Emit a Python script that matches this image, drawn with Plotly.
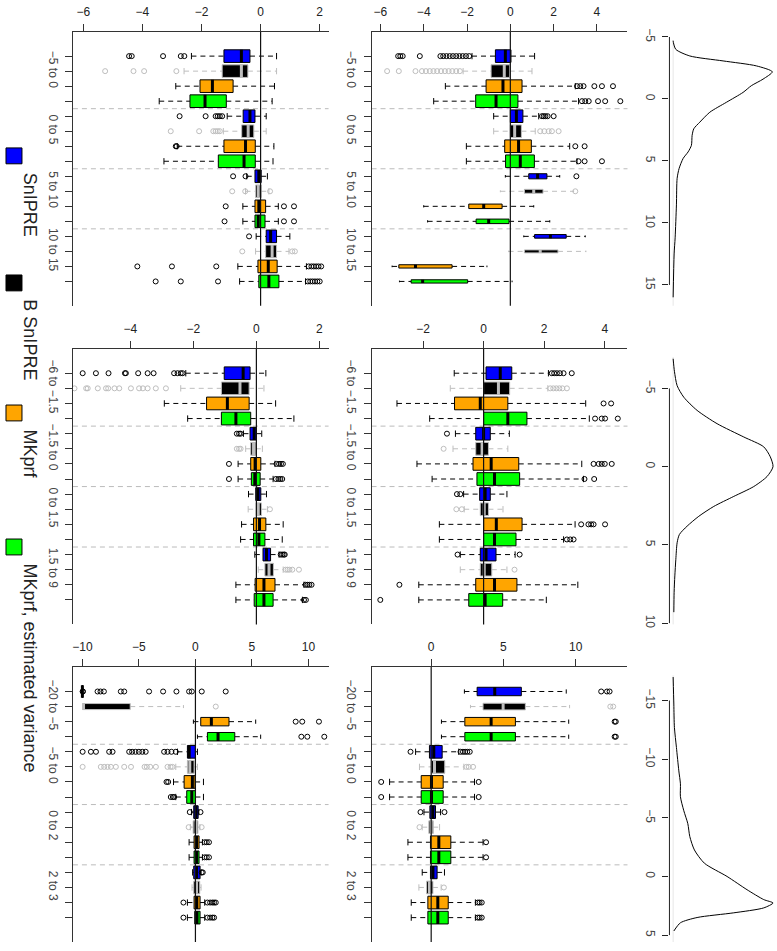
import plotly.graph_objects as go

W, H = 777, 951

# ---------------- data ----------------
methods = ["SnIPRE", "B SnIPRE", "MKprf", "MKprf, estimated variance"]

row_labels = [
    ["−5 to 0", "0 to 5", "5 to 10", "10 to 15"],
    ["−6 to −1.5", "−1.5 to 0", "0 to 1.5", "1.5 to 9"],
    ["−20 to −5", "−5 to 0", "0 to 2", "2 to 3"],
]

# row 1, left panel
p11_q1 = [-1.24, -1.30, -2.05, -2.39, -0.59, -0.64, -1.24, -1.43, -0.19, -0.17, -0.19, -0.19, 0.19, 0.17, -0.09, -0.06]
p11_med = [-0.65, -0.65, -1.63, -1.88, -0.36, -0.42, -0.51, -0.56, -0.06, -0.08, -0.06, -0.08, 0.34, 0.39, 0.26, 0.28]
p11_q3 = [-0.36, -0.43, -0.93, -1.16, -0.19, -0.23, -0.18, -0.18, 0.02, 0.02, 0.17, 0.15, 0.54, 0.54, 0.56, 0.62]
p11_lo = [-2.34, -2.59, -2.87, -3.43, -1.13, -1.26, -2.82, -3.27, -0.47, -0.51, -0.60, -0.60, -0.15, -0.17, -0.77, -0.71]
p11_hi = [0.54, 0.54, 0.47, 0.39, 0.19, 0.19, 0.45, 0.42, 0.23, 0.28, 0.60, 0.60, 0.99, 0.96, 1.55, 1.52]
p11_out = [[-4.45, -4.36, -3.3, -2.7, -2.58], [-5.26, -4.3, -3.94, -2.85], [], [],
           [-2.74, -1.86, -1.52, -1.45, -1.38, -1.3], [-3.04, -2.08, -1.6, -1.52, -1.45, -1.38], [-2.87, -2.84], [],
           [-0.93, -0.51], [-0.96, -0.52, 0.32], [-1.18, 0.79, 1.13], [-1.22, 0.79, 1.13],
           [-0.39], [-0.62, 1.07, 1.16], [-4.17, -3.0, -1.5, 1.63, 1.72, 1.8, 1.88, 1.96, 2.05],
           [-3.55, -2.7, -1.44, 1.6, 1.68, 1.76, 1.84, 1.92, 2.0]]

# row 1, middle panel
p12_q1 = [-0.69, -0.89, -1.12, -1.60, 0.0, 0.0, -0.26, -0.22, 0.85, 0.65, -1.92, -1.58, 1.12, 0.65, -5.15, -4.58]
p12_med = [-0.23, -0.28, -0.34, -0.66, 0.28, 0.20, 0.38, 0.46, 1.26, 1.08, -1.23, -1.0, 1.85, 1.38, -4.38, -4.05]
p12_q3 = [0.03, -0.03, 0.54, 0.35, 0.58, 0.51, 0.97, 1.11, 1.69, 1.51, -0.38, -0.06, 2.58, 2.2, -2.69, -1.97]
p12_lo = [-1.77, -2.18, -3.0, -3.54, -0.77, -0.77, -2.03, -2.03, -0.23, -0.46, -4.0, -3.82, 0.62, -0.08, -5.46, -5.12]
p12_hi = [1.12, 1.0, 3.0, 3.15, 1.31, 1.15, 2.74, 3.08, 2.28, 2.92, 1.08, 1.82, 3.46, 3.49, -1.08, 0.08]
p12_out = [[-5.18, -5.08, -4.97, -4.18, -3.23, -3.1, -2.95, -2.8, -2.65, -2.5, -2.35, -2.2, -2.05, -1.9],
           [-5.69, -5.15, -4.38, -4.08, -3.9, -3.72, -3.55, -3.38, -3.2, -3.02, -2.85, -2.68, -2.5, -2.33],
           [3.08, 3.23, 3.38, 3.88, 4.23, 4.74], [3.31, 3.46, 3.62, 4.05, 4.38, 5.08],
           [1.46, 1.54, 1.62, 1.72, 2.0], [1.38, 1.57, 1.77, 1.92, 2.23], [3.0, 3.43], [3.15, 3.43, 4.23],
           [3.05], [3.0], [], [], [], [], [], []]

# row 2, left panel
p21_q1 = [-1.02, -1.11, -1.58, -1.11, -0.20, -0.18, -0.18, -0.16, -0.02, -0.01, -0.09, -0.09, 0.21, 0.27, -0.04, -0.07]
p21_med = [-0.42, -0.52, -0.92, -0.65, -0.07, -0.09, -0.04, -0.05, 0.05, 0.06, 0.10, 0.08, 0.32, 0.40, 0.24, 0.24]
p21_q3 = [-0.20, -0.23, -0.23, -0.18, 0.0, -0.02, 0.14, 0.12, 0.14, 0.16, 0.30, 0.27, 0.45, 0.54, 0.59, 0.53]
p21_lo = [-2.24, -2.40, -2.92, -2.18, -0.41, -0.34, -0.58, -0.58, -0.25, -0.26, -0.47, -0.50, -0.05, 0.06, -0.65, -0.65]
p21_hi = [0.30, 0.24, 0.61, 1.19, 0.17, 0.19, 0.59, 0.53, 0.32, 0.35, 0.85, 0.82, 0.72, 0.85, 1.51, 1.46]
p21_out = [[-5.51, -5.09, -4.69, -4.17, -4.14, -3.75, -3.45, -3.26, -2.61, -2.5, -2.4, -2.34],
           [-5.77, -5.4, -5.35, -5.03, -4.77, -4.7, -4.5, -4.35, -3.98, -3.72, -3.6, -3.45, -3.19, -2.87],
           [], [], [-0.62, -0.55, -0.5], [-0.62, -0.55, -0.5], [-0.87, 0.64, 0.72, 0.78, 0.84],
           [-0.87, 0.62, 0.7, 0.76, 0.82], [], [0.43], [], [],
           [0.77, 0.82, 0.87, 0.9], [0.93, 0.99, 1.05, 1.14, 1.35], [1.56, 1.62, 1.68, 1.75], [1.51, 1.57]]

# row 2, middle panel
p22_q1 = [0.08, 0.0, -0.96, 0.0, -0.26, -0.26, -0.35, -0.22, -0.13, -0.11, 0.0, 0.0, -0.11, -0.11, -0.26, -0.49]
p22_med = [0.55, 0.49, -0.11, 0.80, 0.0, -0.05, 0.25, 0.36, 0.05, 0.02, 0.42, 0.36, 0.08, 0.02, 0.36, 0.05]
p22_q3 = [0.93, 0.86, 0.80, 1.43, 0.22, 0.16, 1.16, 1.19, 0.22, 0.16, 1.27, 1.07, 0.41, 0.27, 1.10, 0.63]
p22_lo = [-0.97, -1.10, -2.86, -1.78, -0.93, -1.01, -2.20, -1.70, -0.66, -0.64, -1.46, -1.46, -0.77, -0.77, -2.14, -2.14]
p22_hi = [2.14, 2.12, 3.37, 3.49, 0.85, 0.80, 3.24, 3.30, 0.77, 0.64, 3.02, 2.64, 1.04, 0.77, 3.11, 2.07]
p22_out = [[2.25, 2.33, 2.42, 2.52, 2.64, 2.91], [2.2, 2.3, 2.4, 2.5, 2.6, 2.75], [3.96, 4.21],
           [3.68, 3.9, 4.01, 4.43], [-1.21], [-1.32], [3.63, 3.8, 3.9, 4.0, 4.23], [3.33, 3.65],
           [-0.88, -0.77], [-0.9, -0.72], [3.22, 3.46, 3.55, 3.63, 4.01], [2.75, 2.86, 2.97],
           [-0.86, 1.19], [1.02], [-2.78], [-3.41]]

# row 3, left panel
p31_q1 = [-10.0, -9.98, 0.47, 1.06, -0.71, -0.71, -1.00, -0.77, -0.15, -0.20, -0.12, -0.12, -0.15, -0.15, -0.12, -0.06]
p31_med = [-10.0, -9.9, 1.41, 2.0, -0.55, -0.50, -0.27, -0.32, 0.05, 0.05, 0.10, 0.10, 0.10, 0.10, 0.12, 0.14]
p31_q3 = [-10.0, -5.77, 2.97, 3.48, 0.0, -0.12, -0.03, 0.0, 0.24, 0.22, 0.32, 0.32, 0.41, 0.38, 0.41, 0.41]
p31_lo = [-10.0, -9.98, -0.18, 0.18, -1.59, -1.74, -1.94, -1.74, -0.35, -0.45, -0.56, -0.56, -0.25, -0.3, -0.71, -0.71]
p31_hi = [-10.0, -1.06, 5.33, 5.77, 0.18, 0.18, 0.71, 0.71, 0.30, 0.40, 0.62, 0.62, 0.50, 0.50, 0.82, 0.82]
p31_out = [[-9.98, -9.95, -8.66, -8.4, -8.1, -6.6, -6.3, -4.1, -2.86, -1.68, -0.56, -0.32, 0.56, 2.68],
           [1.8], [8.87, 9.45, 10.93], [9.37, 9.9, 11.4],
           [-9.98, -9.25, -8.8, -7.63, -7.33, -5.86, -5.6, -5.3, -5.0, -4.7, -4.4, -2.77, -2.47, -2.12, -1.74],
           [-9.98, -8.37, -8.07, -7.78, -7.48, -7.04, -6.3, -5.7, -4.5, -4.3, -4.0, -3.5, -2.47, -2.2, -2.03],
           [-2.56, -2.41], [-2.18, -2.0, -1.88], [-0.5, 0.45], [-0.6, 0.55], [0.82, 1.0, 1.2], [0.82, 1.0, 1.2],
           [0.55, 0.65], [], [-1.06, 1.06, 1.3, 1.5, 1.65, 1.8], [-1.06, 1.06, 1.3, 1.5, 1.65]]

# row 3, middle panel
p32_q1 = [3.18, 3.59, 2.33, 2.33, -0.12, 0.02, -0.69, -0.69, -0.09, -0.16, -0.05, -0.05, -0.05, -0.32, -0.23, -0.23]
p32_med = [4.40, 4.98, 4.15, 4.15, 0.18, 0.23, 0.02, 0.02, 0.12, 0.0, 0.53, 0.53, 0.12, -0.12, 0.46, 0.46]
p32_q3 = [6.24, 6.52, 5.83, 5.83, 0.76, 0.94, 0.83, 0.83, 0.30, 0.14, 1.36, 1.36, 0.41, 0.12, 1.18, 1.18]
p32_lo = [2.30, 2.72, 0.71, 0.71, -1.08, -0.81, -2.88, -2.88, -0.50, -0.62, -1.61, -1.61, -0.62, -0.85, -1.38, -1.38]
p32_hi = [9.35, 9.58, 9.52, 9.52, 1.91, 2.26, 3.00, 3.00, 0.65, 0.58, 3.59, 3.59, 0.92, 0.69, 3.06, 3.06]
p32_out = [[11.77, 12.17, 12.35], [12.4, 12.6], [12.7, 12.78], [12.7, 12.78],
           [-1.43, 2.03, 2.2, 2.35, 2.5, 2.67], [2.44, 2.6, 2.9], [-3.46, 3.29], [-3.46, 3.29],
           [-0.74, 0.92], [-0.81], [3.8], [3.8], [], [0.88], [3.23, 3.35, 3.5], [3.23, 3.35, 3.5]]

# density curves (value, relative height)
d1_val = [-4.7, -4.54, -4.0, -3.47, -3.07, -2.67, -2.19, -1.6, -1.07, -0.53, 0.27, 1.07, 1.87, 2.4, 2.94,
          3.74, 4.27, 4.8, 5.6, 6.4, 8.54, 11.2, 12.5, 16.0]
d1_h = [0, 0.3, 2.7, 16.7, 50, 83.3, 99.3, 90, 78.3, 70, 53.3, 36.7, 26.7, 20.7, 19, 18.3, 15, 10, 6, 4,
        3.3, 2, 1, 0]
d2_val = [-6.9, -6.1, -5.18, -4.44, -3.6, -2.75, -1.9, -1.27, -0.63, 0.0, 0.63, 1.27, 1.9, 2.54, 3.17,
          3.8, 4.33, 4.86, 5.92, 6.98, 8.03, 9.3]
d2_h = [0, 1.3, 4, 10.7, 24, 44, 70.7, 90.7, 97.3, 100, 94, 80.7, 60.7, 40.7, 25.7, 14, 6.3, 4, 2.7, 1.7, 1, 0.7]
d3_val = [-17.0, -14.7, -12.7, -11.0, -9.0, -7.9, -6.8, -5.6, -4.5, -3.4, -2.26, -1.13, 0.0, 1.13, 1.97,
          2.26, 2.68, 3.1, 3.5, 3.95, 4.65]
d3_h = [0, 0.7, 1.3, 3.3, 5.7, 7.3, 7.3, 10.7, 14.7, 16.7, 21.3, 31.3, 54, 74, 90.7, 100, 90.7, 60.7, 24, 7.3, 0.7]

# tick values
box_ticks = [[[-6, -4, -2, 0, 2], [-6, -4, -2, 0, 2, 4]],
             [[-4, -2, 0, 2], [-2, 0, 2, 4]],
             [[-10, -5, 0, 5, 10], [0, 5, 10]]]
dens_ticks = [[-5, 0, 5, 10, 15], [-5, 0, 5, 10], [-15, -10, -5, 0, 5]]

# ---------------- styling / layout geometry ----------------
FONT = "Liberation Sans, Arial, Helvetica, sans-serif"
FILL = ["#0000FF", "#000000", "#FFA500", "#00FF00"]
EDGE = ["#000000", "#BEBEBE", "#000000", "#000000"]
DASH = "5px,4px"

row_px = [(29, 305), (348.3, 626), (669, 946)]
col_px = [(72, 328), (371, 627.3), (669.3, 777)]
box_ranges = [[(-6.35, 2.30), (-6.41, 5.41)],
              [(-5.82, 2.29), (-3.70, 4.75)],
              [(-10.84, 11.78), (-4.13, 13.59)]]
dens_ranges = [(-5.42, 16.68), (-7.54, 10.08), (-17.85, 5.59)]
cat_range = [17.62, -0.62]

default_w = 0.42
widths = {
    (0, 1): [default_w] * 8 + [0.17, 0.13, 0.15, 0.15, 0.12, 0.1, 0.11, 0.11],
    (2, 0): [default_w, 0.2, 0.28, 0.28] + [default_w] * 12,
    (2, 1): [0.28, 0.22, 0.28, 0.28] + [default_w] * 12,
}

panels = {
    (0, 0): (p11_q1, p11_med, p11_q3, p11_lo, p11_hi, p11_out),
    (0, 1): (p12_q1, p12_med, p12_q3, p12_lo, p12_hi, p12_out),
    (1, 0): (p21_q1, p21_med, p21_q3, p21_lo, p21_hi, p21_out),
    (1, 1): (p22_q1, p22_med, p22_q3, p22_lo, p22_hi, p22_out),
    (2, 0): (p31_q1, p31_med, p31_q3, p31_lo, p31_hi, p31_out),
    (2, 1): (p32_q1, p32_med, p32_q3, p32_lo, p32_hi, p32_out),
}
densities = [(d1_val, d1_h), (d2_val, d2_h), (d3_val, d3_h)]


def ax_names(n):
    s = "" if n == 1 else str(n)
    return "x" + s, "y" + s, "xaxis" + s, "yaxis" + s


def ydom(r):
    top, bot = row_px[r]
    return [1 - bot / H, 1 - top / H]


fig = go.Figure()
shapes = []
layout_axes = {}

for (r, c), (q1, med, q3, lo, hi, out) in panels.items():
    n = 3 * r + c + 1
    xa, ya, xk, yk = ax_names(n)
    wid = widths.get((r, c), [default_w] * 16)

    for g in range(4):
        wx, wy, cx, cy, bx, by, mx, my, ox, oy = [], [], [], [], [], [], [], [], [], []
        for i in range(g, len(q1), 4):
            p = i + 1
            w = wid[i]
            s = w * 0.5
            wx += [lo[i], q1[i], None, q3[i], hi[i], None]
            wy += [p, p, None, p, p, None]
            cx += [lo[i], lo[i], None, hi[i], hi[i], None]
            cy += [p - s, p + s, None, p - s, p + s, None]
            bx += [q1[i], q3[i], q3[i], q1[i], q1[i], None]
            by += [p - w, p - w, p + w, p + w, p - w, None]
            mx += [med[i], med[i], None]
            my += [p - w, p + w, None]
            ox += out[i]
            oy += [p] * len(out[i])
        common = dict(xaxis=xa, yaxis=ya, hoverinfo="skip", showlegend=False)
        fig.add_trace(go.Scatter(x=wx, y=wy, mode="lines",
                                 line=dict(color=EDGE[g], width=1, dash=DASH), **common))
        fig.add_trace(go.Scatter(x=cx, y=cy, mode="lines",
                                 line=dict(color=EDGE[g], width=1), **common))
        fig.add_trace(go.Scatter(x=bx, y=by, mode="lines", fill="toself", fillcolor=FILL[g],
                                 line=dict(color=EDGE[g], width=1), **common))
        fig.add_trace(go.Scatter(x=mx, y=my, mode="lines",
                                 line=dict(color=EDGE[g], width=3), **common))
        fig.add_trace(go.Scatter(x=ox, y=oy, mode="markers",
                                 marker=dict(symbol="circle-open", size=5, color=EDGE[g],
                                             line=dict(width=1, color=EDGE[g])), **common))

    # group separators and zero line
    for sep in [4.5, 8.5, 12.5]:
        shapes.append(dict(type="line", xref=xa + " domain", x0=0, x1=1, yref=ya, y0=sep, y1=sep,
                           line=dict(color="#BBBBBB", width=1, dash=DASH), layer="below"))
    shapes.append(dict(type="line", xref=xa, x0=0, x1=0, yref=ya + " domain", y0=0, y1=1,
                       line=dict(color="#111111", width=1.2), layer="above"))

    x0, x1 = col_px[c]
    tt = []
    for k in range(16):
        tt.append(row_labels[r][k // 4] if k % 4 == 1 else "")
    layout_axes[xk] = dict(domain=[x0 / W, x1 / W], range=list(box_ranges[r][c]), autorange=False,
                           side="top", anchor=ya, tickmode="array", tickvals=box_ticks[r][c],
                           ticks="outside", ticklen=7, tickcolor="#333", showline=True,
                           linecolor="#333", linewidth=1, showgrid=False, zeroline=False,
                           tickfont=dict(family=FONT, size=12, color="#222"), ticklabelstandoff=3)
    layout_axes[yk] = dict(domain=ydom(r), range=cat_range, autorange=False, anchor=xa,
                           tickmode="array", tickvals=list(range(1, 17)), ticktext=tt, tickangle=90,
                           ticks="outside", ticklen=7, tickcolor="#333", showline=True,
                           linecolor="#333", linewidth=1, showgrid=False, zeroline=False,
                           tickfont=dict(family=FONT, size=12, color="#444"), ticklabelstandoff=2)

# density panels
for r, (dv, dh) in enumerate(densities):
    n = 3 * r + 3
    xa, ya, xk, yk = ax_names(n)
    fig.add_trace(go.Scatter(x=dh, y=dv, mode="lines", line=dict(color="#000000", width=1, shape="spline",
                                                                  smoothing=0.7),
                             xaxis=xa, yaxis=ya, hoverinfo="skip", showlegend=False))
    x0, x1 = col_px[2]
    lo_v, hi_v = dens_ranges[r]
    layout_axes[xk] = dict(domain=[x0 / W, x1 / W], range=[-3.7, 104], autorange=False,
                           anchor=ya, visible=False)
    layout_axes[yk] = dict(domain=ydom(r), range=[hi_v, lo_v], autorange=False, anchor=xa,
                           tickmode="array", tickvals=dens_ticks[r], tickangle=90, ticks="outside",
                           ticklen=6, tickcolor="#222", showline=False, showgrid=False, zeroline=False,
                           tickfont=dict(family=FONT, size=12, color="#444"), ticklabelstandoff=2)
    shapes.append(dict(type="line", xref="paper", x0=x0 / W, x1=x0 / W, yref=ya,
                       y0=dens_ticks[r][0], y1=dens_ticks[r][-1], line=dict(color="#222", width=1)))
    shapes.append(dict(type="line", xref=xa, x0=0, x1=0, yref=ya + " domain", y0=0.0, y1=0.97,
                       line=dict(color="#E6E6E6", width=1), layer="below"))

# legend (rotated, along the left edge)
leg_sq = [146, 274, 405, 540]
annotations = []
for k, name in enumerate(methods):
    y0 = leg_sq[k]
    shapes.append(dict(type="rect", xref="paper", yref="paper", x0=5 / W, x1=21 / W,
                       y0=1 - (y0 + 16) / H, y1=1 - y0 / H, fillcolor=FILL[k],
                       line=dict(color="#000000", width=1)))
    annotations.append(dict(text=name, xref="paper", yref="paper", x=29 / W, y=1 - (y0 + 23) / H,
                            xanchor="center", yanchor="top", textangle=90, showarrow=False,
                            font=dict(family=FONT, size=18, color="#222")))

fig.update_layout(width=W, height=H, margin=dict(l=0, r=0, t=0, b=0),
                  paper_bgcolor="white", plot_bgcolor="white", showlegend=False,
                  shapes=shapes, annotations=annotations, **layout_axes)

# the page body has a default 8px margin; drop it so the figure sits at the window origin
fig.write_html("out.html", config={"displayModeBar": False},
               post_script="document.body.style.margin='0';")
